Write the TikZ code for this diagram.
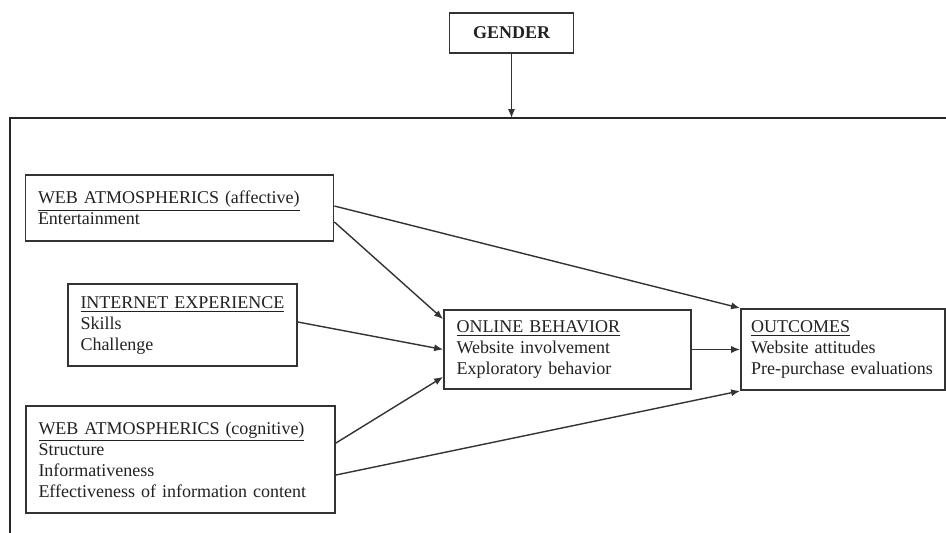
\documentclass[tikz,border=0pt]{standalone}
\usepackage{fontspec}
\setmainfont{Liberation Serif}
\usetikzlibrary{calc,arrows.meta}
\definecolor{ink}{HTML}{222222}
\definecolor{rule}{HTML}{333333}
\tikzset{
  box/.style={draw=rule, line width=0.9pt, inner xsep=6.25pt, inner ysep=0pt,
    align=left, text=ink, font=\fontsize{9}{10.5}\selectfont},
  arr/.style={draw=rule, line width=0.7pt, -{Latex[length=4.5pt,width=3.6pt]}},
}
\newcommand{\hd}[1]{\underline{#1}}
\begin{document}
\begin{tikzpicture}[x=0.5pt,y=-0.5pt]
  \useasboundingbox (0,0) rectangle (946,532);
  \fill[white] (0,0) rectangle (946,532);

  % outer frame (runs past the right and bottom edges)
  \begin{scope}
    \clip (0,0) rectangle (946,532);
    \draw[draw=black!85, line width=1.3pt] (10,118) rectangle (1000,600);
  \end{scope}
  \coordinate (ftop) at (509,118);

  % moderator
  \node[box, minimum width=62pt, minimum height=20pt, align=center,
        font=\fontsize{9}{10.5}\selectfont\bfseries] (gender) at (511.5,33) {GENDER};

  % antecedents
  \node[box, text width=141.5pt, minimum height=33pt] (aff) at (179.5,208)
    {\hd{WEB ATMOSPHERICS (affective)}\\Entertainment};
  \node[box, text width=102pt, minimum height=41pt] (inet) at (182.5,325)
    {\hd{INTERNET EXPERIENCE}\\Skills\\Challenge};
  \node[box, text width=142pt, minimum height=53.5pt] (cog) at (180.5,459.5)
    {\hd{WEB ATMOSPHERICS (cognitive)}\\Structure\\Informativeness\\Effectiveness of information content};

  % mediator and outcomes
  \node[box, text width=111pt, minimum height=39.5pt] (online) at (567.5,349.5)
    {\hd{ONLINE BEHAVIOR}\\Website involvement\\Exploratory behavior};
  \node[box, text width=92pt, inner xsep=5pt, minimum height=40.5pt] (outc) at (843,349.5)
    {\hd{OUTCOMES}\\Website attitudes\\Pre-purchase evaluations};

  % paths
  \draw[arr] ($(gender.south)$) -- (gender.south |- ftop);
  \draw[arr] ($(aff.east)+(0,-2)$) -- (outc.north west);
  \draw[arr] ($(aff.east)+(0,14)$) -- ($(online.north west)+(0,10)$);
  \draw[arr] ($(inet.east)+(0,-3)$) -- (online.west);
  \draw[arr] ($(cog.east)+(0,-16.5)$) -- ($(online.south west)+(0,-13)$);
  \draw[arr] ($(cog.east)+(0,15.5)$) -- (outc.south west);
  \draw[arr] (online.east) -- (outc.west);
\end{tikzpicture}
\end{document}
